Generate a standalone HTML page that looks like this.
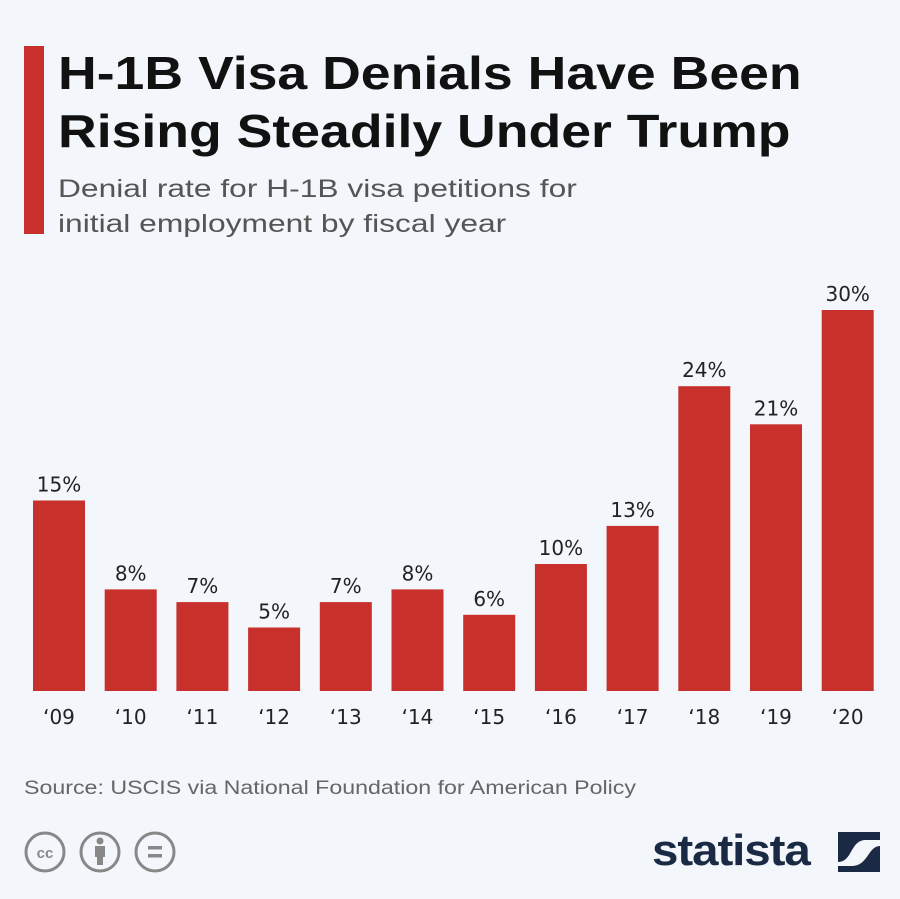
<!DOCTYPE html>
<html><head><meta charset="utf-8"><style>
body{margin:0;width:900px;height:899px;background:#f3f6fa;font-family:"Liberation Sans",sans-serif;position:relative;overflow:hidden}
.abs{position:absolute;white-space:nowrap}
</style></head><body>
<div class="abs" style="left:24px;top:46px;width:20px;height:188px;background:#c8302c"></div>
<div class="abs" style="left:58px;top:44px;font-size:46px;font-weight:bold;line-height:58px;color:#111;transform:scaleX(1.165);transform-origin:left top">H-1B Visa Denials Have Been<br>Rising Steadily Under Trump</div>
<div class="abs" style="left:58px;top:172px;font-size:25px;line-height:35px;color:#555;transform:scaleX(1.27);transform-origin:left top">Denial rate for H-1B visa petitions for<br>initial employment by fiscal year</div>
<svg class="abs" style="left:0;top:0" width="900" height="760" id="chart"></svg>
<div class="abs" style="left:24px;top:778px;font-size:19px;color:#666;transform:scaleX(1.22);transform-origin:left top">Source: USCIS via National Foundation for American Policy</div>
<svg class="abs" style="left:22px;top:830px" width="160" height="46">
<g fill="none" stroke="#888" stroke-width="3"><circle cx="23" cy="22" r="19"/><circle cx="78" cy="22" r="19"/><circle cx="133" cy="22" r="19"/></g>
<text x="23" y="28" font-size="15" font-weight="bold" fill="#888" text-anchor="middle" font-family="Liberation Sans">cc</text>
<circle cx="78" cy="11" r="3.5" fill="#888"/><rect x="73" y="16" width="10" height="11" fill="#888"/><rect x="75" y="26" width="6" height="9" fill="#888"/>
<rect x="126" y="16" width="14" height="3.5" fill="#888"/><rect x="126" y="24" width="14" height="3.5" fill="#888"/>
</svg>
<div class="abs" style="left:652px;top:826px;font-size:44px;font-weight:bold;color:#1a2a44;letter-spacing:-1px;transform:scaleX(1.08);transform-origin:left">statista</div>
<svg class="abs" style="left:838px;top:832px" width="42" height="40"><rect width="42" height="40" fill="#1a2a44"/><path d="M0,30 C14,30 12,10 26,8 L42,8 L42,14 C30,14 30,34 14,34 L0,34Z" fill="#f3f6fa"/></svg>
<script>
const categories=["‘09","‘10","‘11","‘12","‘13","‘14","‘15","‘16","‘17","‘18","‘19","‘20"];
const values=[15,8,7,5,7,8,6,10,13,24,21,30];
const svg=document.getElementById('chart');
const NS='http://www.w3.org/2000/svg';
const baseY=691,pxPer=12.7,x0=33,step=71.7,bw=52;
const xs=i=>x0+i*step, ys=v=>baseY-v*pxPer;
values.forEach((v,i)=>{
 const r=document.createElementNS(NS,'rect');
 r.setAttribute('x',xs(i));r.setAttribute('y',ys(v));r.setAttribute('width',bw);r.setAttribute('height',baseY-ys(v));r.setAttribute('fill','#c8302c');
 
 
 svg.appendChild(r);
 const t=document.createElementNS(NS,'text');
 t.setAttribute('x',xs(i)+bw/2);t.setAttribute('y',ys(v)-9);t.setAttribute('text-anchor','middle');t.setAttribute('font-size','20');t.setAttribute('fill','#222');t.setAttribute('font-family','DejaVu Sans');
 t.textContent=v+'%';
 
 
 svg.appendChild(t);
 const c=document.createElementNS(NS,'text');
 c.setAttribute('x',xs(i)+bw/2);c.setAttribute('y',724);c.setAttribute('text-anchor','middle');c.setAttribute('font-size','20');c.setAttribute('fill','#222');c.setAttribute('font-family','DejaVu Sans');
 c.textContent=categories[i];
 
 
 svg.appendChild(c);
});
</script>
</body></html>
